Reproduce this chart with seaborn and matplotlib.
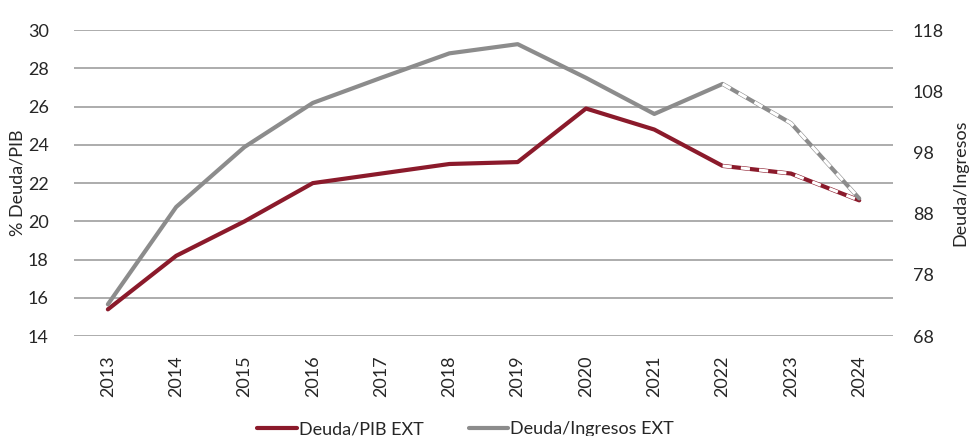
import matplotlib
matplotlib.use("Agg")
import matplotlib.pyplot as plt
import seaborn as sns
import pandas as pd
import numpy as np
from matplotlib.lines import Line2D

years = [2013, 2014, 2015, 2016, 2017, 2018, 2019, 2020, 2021, 2022, 2023, 2024]
deuda_pib = [15.4, 18.2, 20.0, 22.0, 22.5, 23.0, 23.1, 25.9, 24.8, 22.9, 22.5, 21.1]
deuda_ingresos = [73.2, 89.1, 98.9, 106.1, 110.2, 114.2, 115.7, 110.2, 104.3, 109.2, 102.8, 90.5]
left_ticks = [14, 16, 18, 20, 22, 24, 26, 28, 30]
right_ticks = [68, 78, 88, 98, 108, 118]
proj_start = 9  # index of 2022, projection from here

sns.set_theme(style="white")
plt.rcParams['font.family'] = ['Lato', 'DejaVu Sans']

red = "#8b1a2b"
grey = "#8c8c8c"

df = pd.DataFrame({"x": np.arange(len(years)), "pib": deuda_pib, "ing": deuda_ingresos})

fig = plt.figure(figsize=(9.7, 4.36), dpi=100)
ax = fig.add_axes([0.076, 0.229, 0.845, 0.702])
ax2 = ax.twinx()

for t in left_ticks:
    ax.axhline(t, color="#a6a6a6", lw=1.3, zorder=0)

sns.lineplot(data=df, x="x", y="pib", ax=ax, color=red, lw=3, zorder=3)
sns.lineplot(data=df, x="x", y="ing", ax=ax2, color=grey, lw=3, zorder=3)

# projection overlay (white dashes)
proj = df.iloc[proj_start:]
ax.plot(proj["x"], proj["pib"], color="white", lw=2.2, ls=(0, (3, 3)), zorder=4)
ax2.plot(proj["x"], proj["ing"], color="white", lw=2.2, ls=(0, (3, 3)), zorder=4)

ax.set_ylim(14, 30)
ax2.set_ylim(68, 118)
ax.set_xlim(-0.5, len(years) - 0.5)
ax.set_yticks(left_ticks)
ax.set_yticklabels([str(t) for t in left_ticks], fontsize=13)
ax2.set_yticks(right_ticks)
ax2.set_yticklabels([str(t) for t in right_ticks], fontsize=13)
ax.set_xticks(np.arange(len(years)))
ax.set_xticklabels([str(y) for y in years], rotation=90, fontsize=13)
ax.tick_params(axis="both", length=0)
ax.tick_params(axis="y", pad=18)
ax.tick_params(axis="x", pad=14)
ax2.tick_params(axis="y", length=0, pad=14)

for a in (ax, ax2):
    for s in a.spines.values():
        s.set_visible(False)

ax.set_xlabel("")
ax.set_ylabel("% Deuda/PIB", fontsize=13, labelpad=2)
ax2.set_ylabel("Deuda/Ingresos", fontsize=13, labelpad=6)

handles = [Line2D([0], [0], color=red, lw=3), Line2D([0], [0], color=grey, lw=3)]
fig.legend(handles, ["Deuda/PIB EXT", "Deuda/Ingresos EXT"], loc="lower center",
           bbox_to_anchor=(0.48, -0.04), ncol=2, frameon=False, fontsize=13,
           handlelength=2.2, handletextpad=0.1, columnspacing=2.5)

fig.savefig("out.png", dpi=100)
